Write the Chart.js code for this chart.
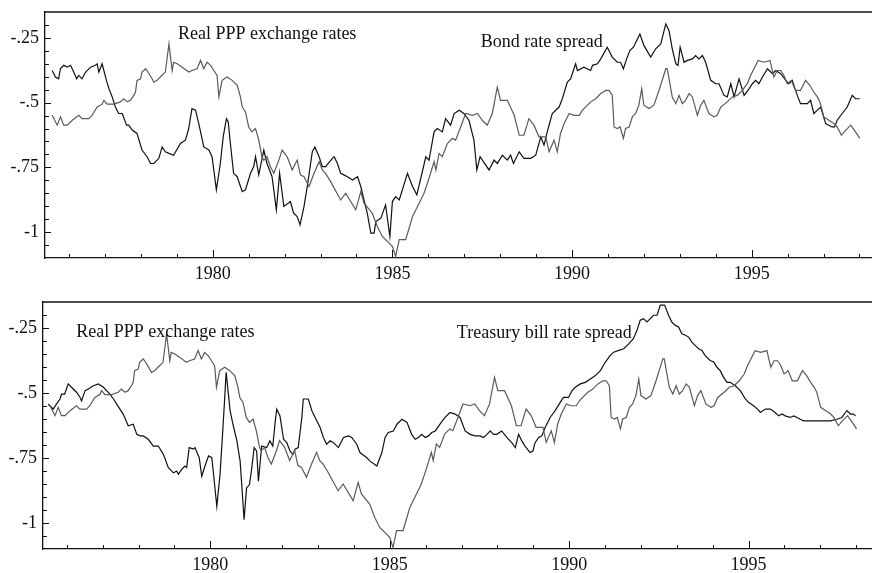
<!DOCTYPE html>
<html>
<head>
<meta charset="utf-8">
<script src="https://cdn.jsdelivr.net/npm/chart.js@4/dist/chart.umd.min.js"></script>
<style>
  html, body { margin: 0; padding: 0; background: #fff; overflow: hidden; }
  #top { position: absolute; left: 0; top: 0; }
  #bottom { position: absolute; left: 0; top: 290px; }
</style>
</head>
<body>
<canvas id="top" width="872" height="290"></canvas>
<canvas id="bottom" width="872" height="283"></canvas>
<script>
// Real PPP exchange rates (grey line, same series in both panels)
const pppDates = [1975.53,1975.67,1975.76,1975.85,1975.95,1976.09,1976.27,1976.36,1976.55,1976.64,1976.78,1976.92,1976.97,1977.06,1977.25,1977.43,1977.52,1977.62,1977.71,1977.80,1977.85,1977.89,1977.99,1978.03,1978.13,1978.17,1978.31,1978.36,1978.45,1978.54,1978.68,1978.78,1978.87,1978.91,1979.01,1979.15,1979.33,1979.42,1979.56,1979.66,1979.75,1979.84,1979.94,1980.03,1980.12,1980.17,1980.26,1980.40,1980.54,1980.68,1980.77,1980.82,1980.91,1981.00,1981.09,1981.19,1981.28,1981.37,1981.42,1981.51,1981.60,1981.70,1981.84,1981.93,1982.07,1982.16,1982.21,1982.30,1982.35,1982.44,1982.54,1982.68,1982.82,1982.96,1983.05,1983.14,1983.28,1983.56,1983.70,1983.98,1984.12,1984.21,1984.44,1984.58,1984.72,1985.00,1985.09,1985.19,1985.37,1985.56,1985.70,1985.88,1986.02,1986.16,1986.21,1986.30,1986.39,1986.53,1986.67,1986.76,1986.90,1987.04,1987.23,1987.37,1987.50,1987.64,1987.78,1987.92,1988.01,1988.20,1988.39,1988.53,1988.66,1988.80,1988.94,1989.08,1989.27,1989.36,1989.50,1989.59,1989.68,1989.78,1989.92,1990.06,1990.20,1990.29,1990.52,1990.66,1990.80,1990.94,1991.03,1991.12,1991.17,1991.26,1991.34,1991.43,1991.49,1991.59,1991.68,1991.77,1991.86,1991.94,1992.00,1992.14,1992.28,1992.42,1992.61,1992.65,1992.79,1992.89,1992.98,1993.07,1993.16,1993.26,1993.35,1993.49,1993.58,1993.67,1993.81,1993.95,1994.04,1994.14,1994.32,1994.46,1994.60,1994.74,1994.88,1994.97,1995.18,1995.34,1995.51,1995.62,1995.71,1995.81,1995.90,1995.99,1996.10,1996.22,1996.36,1996.50,1996.62,1996.73,1996.83,1996.90,1997.01,1997.15,1997.29,1997.38,1997.50,1997.62,1997.76,1997.89,1998.01];
const pppValues = [-0.549,-0.587,-0.555,-0.587,-0.587,-0.568,-0.549,-0.562,-0.562,-0.549,-0.517,-0.506,-0.491,-0.506,-0.506,-0.497,-0.485,-0.497,-0.491,-0.472,-0.459,-0.414,-0.408,-0.382,-0.369,-0.376,-0.408,-0.421,-0.414,-0.401,-0.382,-0.273,-0.376,-0.344,-0.350,-0.363,-0.382,-0.376,-0.369,-0.337,-0.369,-0.344,-0.356,-0.376,-0.395,-0.478,-0.414,-0.401,-0.414,-0.433,-0.478,-0.517,-0.536,-0.594,-0.613,-0.600,-0.645,-0.709,-0.722,-0.709,-0.747,-0.773,-0.722,-0.683,-0.709,-0.741,-0.760,-0.735,-0.722,-0.779,-0.786,-0.824,-0.773,-0.728,-0.760,-0.773,-0.805,-0.876,-0.850,-0.914,-0.844,-0.888,-0.927,-0.978,-1.017,-1.055,-1.094,-1.029,-1.029,-0.940,-0.901,-0.850,-0.792,-0.728,-0.760,-0.696,-0.709,-0.658,-0.638,-0.645,-0.594,-0.542,-0.549,-0.542,-0.568,-0.587,-0.542,-0.440,-0.491,-0.491,-0.549,-0.626,-0.626,-0.562,-0.587,-0.632,-0.632,-0.690,-0.645,-0.690,-0.619,-0.581,-0.542,-0.549,-0.549,-0.529,-0.497,-0.485,-0.465,-0.453,-0.453,-0.472,-0.594,-0.600,-0.594,-0.638,-0.600,-0.594,-0.555,-0.542,-0.510,-0.446,-0.510,-0.523,-0.510,-0.453,-0.369,-0.369,-0.478,-0.504,-0.472,-0.504,-0.491,-0.465,-0.478,-0.549,-0.510,-0.491,-0.542,-0.555,-0.549,-0.517,-0.497,-0.478,-0.472,-0.453,-0.427,-0.395,-0.337,-0.344,-0.337,-0.401,-0.376,-0.376,-0.395,-0.427,-0.414,-0.453,-0.453,-0.414,-0.433,-0.459,-0.478,-0.497,-0.555,-0.568,-0.581,-0.594,-0.626,-0.606,-0.587,-0.613,-0.638];

// Bond rate spread (black line, top panel)
const bondDates = [1975.53,1975.62,1975.71,1975.76,1975.85,1975.95,1976.04,1976.13,1976.21,1976.27,1976.36,1976.46,1976.60,1976.73,1976.78,1976.83,1976.92,1977.04,1977.11,1977.20,1977.29,1977.38,1977.48,1977.60,1977.66,1977.76,1977.89,1978.03,1978.17,1978.27,1978.36,1978.50,1978.59,1978.68,1978.78,1978.91,1979.10,1979.24,1979.33,1979.42,1979.52,1979.61,1979.75,1979.89,1979.98,1980.10,1980.21,1980.29,1980.38,1980.43,1980.49,1980.58,1980.68,1980.82,1980.91,1981.05,1981.14,1981.19,1981.28,1981.42,1981.51,1981.65,1981.77,1981.86,1981.98,1982.16,1982.25,1982.35,1982.43,1982.54,1982.63,1982.77,1982.84,1982.96,1983.05,1983.14,1983.33,1983.38,1983.47,1983.56,1983.65,1983.75,1983.89,1984.03,1984.12,1984.21,1984.30,1984.40,1984.49,1984.54,1984.68,1984.81,1984.93,1985.00,1985.09,1985.19,1985.42,1985.56,1985.68,1985.79,1985.93,1986.02,1986.16,1986.25,1986.39,1986.48,1986.62,1986.72,1986.86,1986.99,1987.13,1987.27,1987.35,1987.44,1987.69,1987.83,1987.92,1988.06,1988.20,1988.29,1988.37,1988.53,1988.66,1988.85,1988.99,1989.13,1989.22,1989.31,1989.45,1989.64,1989.73,1989.87,1989.96,1990.10,1990.15,1990.33,1990.52,1990.57,1990.71,1990.80,1990.98,1991.12,1991.26,1991.35,1991.43,1991.52,1991.61,1991.71,1991.80,1991.89,1992.00,1992.19,1992.33,1992.47,1992.61,1992.70,1992.79,1992.89,1992.95,1993.01,1993.12,1993.21,1993.35,1993.44,1993.53,1993.63,1993.72,1993.86,1994.00,1994.09,1994.23,1994.32,1994.42,1994.51,1994.65,1994.79,1994.93,1995.02,1995.11,1995.20,1995.30,1995.44,1995.58,1995.67,1995.81,1995.95,1996.04,1996.13,1996.27,1996.36,1996.55,1996.64,1996.73,1996.83,1996.92,1997.06,1997.24,1997.31,1997.38,1997.52,1997.66,1997.80,1997.89,1998.01];
const bondValues = [-0.376,-0.401,-0.408,-0.369,-0.356,-0.363,-0.356,-0.382,-0.408,-0.395,-0.408,-0.382,-0.363,-0.356,-0.350,-0.382,-0.350,-0.414,-0.446,-0.478,-0.517,-0.542,-0.542,-0.587,-0.587,-0.606,-0.619,-0.683,-0.709,-0.735,-0.735,-0.715,-0.671,-0.690,-0.696,-0.703,-0.658,-0.645,-0.600,-0.523,-0.529,-0.581,-0.671,-0.683,-0.709,-0.837,-0.735,-0.632,-0.562,-0.574,-0.658,-0.773,-0.786,-0.844,-0.837,-0.773,-0.747,-0.709,-0.779,-0.683,-0.735,-0.786,-0.914,-0.773,-0.901,-0.882,-0.927,-0.940,-0.972,-0.901,-0.824,-0.690,-0.671,-0.709,-0.747,-0.747,-0.715,-0.709,-0.735,-0.773,-0.779,-0.786,-0.799,-0.786,-0.824,-0.876,-0.927,-1.004,-1.004,-0.959,-0.946,-0.895,-1.017,-0.882,-0.863,-0.876,-0.773,-0.824,-0.856,-0.792,-0.709,-0.722,-0.613,-0.600,-0.613,-0.562,-0.587,-0.542,-0.529,-0.542,-0.568,-0.645,-0.760,-0.709,-0.760,-0.722,-0.735,-0.703,-0.722,-0.703,-0.735,-0.690,-0.715,-0.715,-0.703,-0.632,-0.664,-0.613,-0.542,-0.517,-0.485,-0.421,-0.408,-0.350,-0.376,-0.363,-0.376,-0.356,-0.350,-0.331,-0.286,-0.324,-0.344,-0.344,-0.369,-0.331,-0.299,-0.286,-0.260,-0.235,-0.279,-0.324,-0.292,-0.273,-0.196,-0.222,-0.292,-0.350,-0.356,-0.286,-0.344,-0.337,-0.331,-0.318,-0.331,-0.318,-0.344,-0.414,-0.427,-0.427,-0.472,-0.478,-0.427,-0.478,-0.408,-0.472,-0.446,-0.427,-0.414,-0.427,-0.401,-0.369,-0.388,-0.376,-0.388,-0.414,-0.427,-0.414,-0.472,-0.504,-0.504,-0.491,-0.542,-0.529,-0.517,-0.581,-0.594,-0.594,-0.568,-0.542,-0.517,-0.472,-0.485,-0.485];

// Treasury bill rate spread (black line, bottom panel)
const tbillDates = [1975.48,1975.58,1975.62,1975.71,1975.81,1975.85,1975.94,1976.04,1976.13,1976.27,1976.37,1976.41,1976.51,1976.60,1976.74,1976.88,1977.02,1977.11,1977.20,1977.30,1977.39,1977.57,1977.71,1977.85,1977.95,1978.04,1978.13,1978.27,1978.41,1978.55,1978.69,1978.83,1978.97,1979.06,1979.11,1979.20,1979.29,1979.34,1979.41,1979.53,1979.57,1979.69,1979.76,1979.85,1979.95,1980.04,1980.08,1980.18,1980.27,1980.34,1980.39,1980.44,1980.55,1980.64,1980.74,1980.83,1980.90,1980.94,1981.01,1981.09,1981.15,1981.22,1981.29,1981.34,1981.43,1981.57,1981.66,1981.74,1981.81,1981.85,1981.94,1982.04,1982.13,1982.22,1982.30,1982.36,1982.45,1982.55,1982.59,1982.73,1982.83,1982.92,1983.06,1983.15,1983.24,1983.34,1983.43,1983.57,1983.71,1983.85,1983.94,1984.08,1984.17,1984.36,1984.45,1984.64,1984.78,1984.87,1984.96,1985.10,1985.20,1985.34,1985.48,1985.61,1985.71,1985.80,1985.89,1985.99,1986.08,1986.17,1986.27,1986.40,1986.54,1986.68,1986.82,1986.96,1987.10,1987.24,1987.38,1987.52,1987.61,1987.71,1987.80,1987.89,1987.98,1988.12,1988.26,1988.40,1988.50,1988.59,1988.68,1988.77,1988.91,1988.99,1989.05,1989.15,1989.24,1989.33,1989.47,1989.61,1989.75,1989.84,1989.98,1990.08,1990.17,1990.31,1990.45,1990.59,1990.73,1990.87,1991.01,1991.14,1991.24,1991.38,1991.52,1991.66,1991.79,1991.89,1991.98,1992.07,1992.17,1992.26,1992.35,1992.45,1992.54,1992.66,1992.77,1992.86,1992.96,1993.05,1993.14,1993.24,1993.33,1993.42,1993.51,1993.61,1993.70,1993.79,1993.93,1994.03,1994.12,1994.21,1994.30,1994.40,1994.49,1994.63,1994.77,1994.91,1995.00,1995.14,1995.25,1995.33,1995.47,1995.61,1995.74,1995.84,1995.93,1996.02,1996.16,1996.26,1996.35,1996.44,1996.53,1996.72,1996.91,1997.09,1997.28,1997.46,1997.60,1997.70,1997.74,1997.84,1997.93,1997.98];
const tbillValues = [-0.543,-0.555,-0.562,-0.543,-0.523,-0.504,-0.504,-0.465,-0.478,-0.497,-0.517,-0.530,-0.491,-0.485,-0.472,-0.465,-0.478,-0.491,-0.504,-0.523,-0.543,-0.581,-0.626,-0.620,-0.659,-0.665,-0.665,-0.678,-0.704,-0.704,-0.736,-0.787,-0.807,-0.800,-0.813,-0.794,-0.781,-0.787,-0.710,-0.716,-0.710,-0.749,-0.820,-0.781,-0.742,-0.749,-0.800,-0.936,-0.813,-0.659,-0.543,-0.420,-0.568,-0.626,-0.684,-0.762,-0.903,-0.987,-0.865,-0.852,-0.794,-0.710,-0.723,-0.839,-0.704,-0.710,-0.684,-0.704,-0.607,-0.562,-0.588,-0.678,-0.691,-0.723,-0.736,-0.716,-0.710,-0.594,-0.523,-0.523,-0.568,-0.594,-0.633,-0.671,-0.697,-0.684,-0.691,-0.710,-0.671,-0.665,-0.671,-0.697,-0.729,-0.749,-0.762,-0.781,-0.729,-0.671,-0.652,-0.646,-0.620,-0.601,-0.613,-0.659,-0.678,-0.671,-0.659,-0.671,-0.665,-0.652,-0.646,-0.620,-0.594,-0.575,-0.581,-0.594,-0.646,-0.659,-0.665,-0.665,-0.671,-0.659,-0.646,-0.659,-0.659,-0.646,-0.671,-0.691,-0.710,-0.659,-0.684,-0.704,-0.729,-0.723,-0.691,-0.671,-0.665,-0.633,-0.594,-0.568,-0.536,-0.517,-0.517,-0.491,-0.478,-0.465,-0.459,-0.446,-0.433,-0.414,-0.381,-0.356,-0.343,-0.336,-0.330,-0.311,-0.291,-0.259,-0.220,-0.214,-0.227,-0.214,-0.201,-0.201,-0.162,-0.162,-0.201,-0.227,-0.240,-0.246,-0.272,-0.278,-0.285,-0.304,-0.317,-0.330,-0.336,-0.356,-0.375,-0.381,-0.401,-0.414,-0.439,-0.459,-0.459,-0.472,-0.491,-0.523,-0.536,-0.549,-0.562,-0.575,-0.562,-0.562,-0.575,-0.588,-0.581,-0.588,-0.594,-0.588,-0.594,-0.601,-0.607,-0.607,-0.607,-0.607,-0.607,-0.601,-0.594,-0.575,-0.568,-0.581,-0.581,-0.588];

// axis ticks
const yearTicks = [1980, 1985, 1990, 1995];
const valueTicks = [-1, -0.75, -0.5, -0.25];

const FONT = { family: "'Liberation Serif', 'DejaVu Serif', serif", size: 18 };
const INK = "#111";
const GREY = "#5a5a5a";

function points(dates, values) {
  return dates.map((d, i) => ({ x: d, y: values[i] }));
}

function isYearTick(v) { return yearTicks.some(t => Math.abs(t - v) < 1e-6); }
function isValueTick(v) { return valueTicks.some(t => Math.abs(t - v) < 1e-6); }

function valueLabel(v) {
  if (Math.abs(v + 1) < 1e-6) return "-1";
  return String(v).replace("0.", ".");
}

// inward tick marks, top frame line and the series captions
const framePlugin = {
  id: "frame",
  afterDraw(chart) {
    const ctx = chart.ctx;
    const a = chart.chartArea;
    const xs = chart.scales.x, ys = chart.scales.y;
    ctx.save();
    ctx.strokeStyle = INK;
    ctx.lineWidth = 1;
    ctx.beginPath();
    xs.ticks.forEach(t => {
      const px = Math.round(xs.getPixelForValue(t.value)) + 0.5;
      if (px <= a.left + 1 || px >= a.right - 1) return;
      const len = isYearTick(t.value) ? 8 : 4;
      ctx.moveTo(px, a.bottom);
      ctx.lineTo(px, a.bottom - len);
    });
    ys.ticks.forEach(t => {
      const py = Math.round(ys.getPixelForValue(t.value)) + 0.5;
      if (py <= a.top + 1 || py >= a.bottom - 1) return;
      const len = isValueTick(t.value) ? 6 : 4;
      ctx.moveTo(a.left, py);
      ctx.lineTo(a.left + len, py);
    });
    ctx.stroke();
    ctx.lineWidth = 1.3;
    ctx.beginPath();
    ctx.moveTo(a.left, a.top);
    ctx.lineTo(a.right, a.top);
    ctx.stroke();
    ctx.fillStyle = INK;
    ctx.font = FONT.size + "px " + FONT.family;
    ctx.textBaseline = "alphabetic";
    (chart.options.plugins.frame.captions || []).forEach(c => {
      ctx.fillText(c.text, xs.getPixelForValue(c.x), ys.getPixelForValue(c.y));
    });
    ctx.restore();
  }
};

function makeChart(id, black, captions, axisWidth, xMin, xMax, xHeight) {
  const config = {
    type: "line",
    data: {
      datasets: [
        { data: points(pppDates, pppValues), borderColor: GREY, borderWidth: 1.2 },
        { data: black, borderColor: INK, borderWidth: 1.2 },
      ],
    },
    options: {
      responsive: false,
      animation: false,
      events: [],
      elements: { point: { radius: 0 }, line: { tension: 0 } },
      layout: { padding: { top: 12, right: 0, left: 0, bottom: 0 } },
      plugins: {
        legend: { display: false },
        tooltip: { enabled: false },
        frame: { captions: captions },
      },
      scales: {
        x: {
          type: "linear",
          min: xMin,
          max: xMax,
          grid: { display: false, drawTicks: false },
          border: { display: true, color: INK, width: 1.3 },
          ticks: {
            stepSize: 1,
            includeBounds: false,
            autoSkip: false,
            maxRotation: 0,
            padding: 5,
            color: INK,
            font: FONT,
            callback: v => (isYearTick(v) ? String(v) : ""),
          },
          afterFit: s => {
            s.height = xHeight;
            s.paddingLeft = 0;
            s.paddingRight = 0;
          },
        },
        y: {
          min: -1.1,
          max: -0.15,
          grid: { display: false, drawTicks: false },
          border: { display: true, color: INK, width: 1.3 },
          ticks: {
            stepSize: 0.05,
            includeBounds: false,
            autoSkip: false,
            padding: 6,
            color: INK,
            font: FONT,
            callback: v => (isValueTick(v) ? valueLabel(v) : ""),
          },
          afterFit: s => {
            s.width = axisWidth;
            s.paddingTop = 0;
            s.paddingBottom = 0;
          },
        },
      },
    },
    plugins: [framePlugin],
  };
  return new Chart(document.getElementById(id), config);
}

makeChart("top", points(bondDates, bondValues), [
  { text: "Real PPP exchange rates", x: 1979.03, y: -0.255 },
  { text: "Bond rate spread", x: 1987.46, y: -0.285 },
], 45, 1975.33, 1998.35, 32);

makeChart("bottom", points(tbillDates, tbillValues), [
  { text: "Real PPP exchange rates", x: 1976.26, y: -0.285 },
  { text: "Treasury bill rate spread", x: 1986.87, y: -0.288 },
], 43, 1975.336, 1998.44, 24);
</script>
</body>
</html>
